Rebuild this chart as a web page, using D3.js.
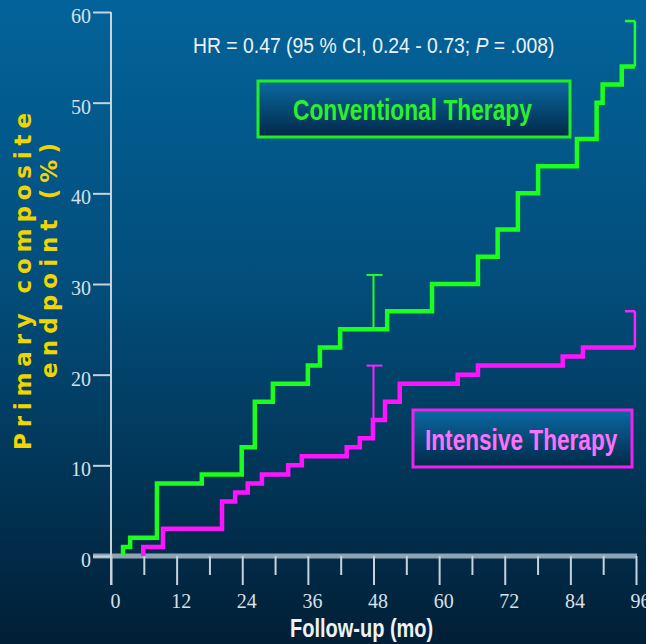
<!DOCTYPE html>
<html><head><meta charset="utf-8">
<script src="https://cdn.jsdelivr.net/npm/d3@7"></script>
<style>html,body{margin:0;padding:0;background:#003050;}svg{display:block}</style>
</head><body>
<svg id="c" width="646" height="644"></svg>
<script>
// ---- data ----
const convTimes  = [2.2, 2.2, 3.5, 8.4, 16.6, 23.9, 26.3, 29.6, 36.0, 38.2, 41.9, 50.5, 58.7, 67.1, 70.7, 74.4, 78.1, 85.2, 88.8, 89.9, 93.4, 95.8];
const convValues = [0,   1,   2,   8,   9,    12,   17,   19,   21,   23,   25,   27,   30,   33,   36,   40,   43,   46,   50,   52,   54,   54];
const intTimes   = [5.9, 5.9, 9.5, 20.3, 22.7, 25.0, 27.6, 32.4, 34.9, 43.1, 45.5, 47.9, 50.1, 52.8, 63.4, 67.1, 82.6, 86.3, 95.8];
const intValues  = [0,   1,   3,   6,    7,    8,    9,    10,   11,   12,   13,   15,   17,   19,   20,   21,   22,   23,   23];
const ciTimes    = [48, 95.8];
const convCILow  = [25, 54];
const convCIHigh = [31, 59];
const intCILow   = [15, 23];
const intCIHigh  = [21, 27];
const xMajorTicks = [0, 12, 24, 36, 48, 60, 72, 84, 96];
const xMinorTicks = [6, 18, 30, 42, 54, 66, 78, 90];
const yTicks = [0, 10, 20, 30, 40, 50, 60];
const hrText = ["HR = 0.47 (95 % CI, 0.24 - 0.73; ", "P", " = .008)"];
const convLabel = "Conventional Therapy";
const intLabel = "Intensive Therapy";
const xTitle = "Follow-up (mo)";
const yTitle = ["Primary composite", "endpoint (%)"];

// ---- drawing ----
const svg = d3.select("#c");
const defs = svg.append("defs");
const bg = defs.append("linearGradient").attr("id","bg").attr("x1",0).attr("y1",0).attr("x2",0).attr("y2",1);
bg.append("stop").attr("offset","0%").attr("stop-color","#03639a");
bg.append("stop").attr("offset","45%").attr("stop-color","#024d7a");
bg.append("stop").attr("offset","100%").attr("stop-color","#011f36");
const box = defs.append("linearGradient").attr("id","box").attr("x1",0).attr("y1",0).attr("x2",0).attr("y2",1);
box.append("stop").attr("offset","0%").attr("stop-color","#0a6aa2");
box.append("stop").attr("offset","100%").attr("stop-color","#012848");

svg.append("rect").attr("width",646).attr("height",644).attr("fill","url(#bg)");

const x = d3.scaleLinear().domain([0,96]).range([111,636]);
const y = d3.scaleLinear().domain([0,60]).range([556,12]);

const axisColor = "#c6d2dc";
const labelFont = "'Liberation Serif', 'DejaVu Serif', serif";
const sans = "'Liberation Sans', Arial, sans-serif";

// x axis: thick baseline
svg.append("line").attr("x1",93).attr("x2",637).attr("y1",y(0)).attr("y2",y(0))
  .attr("stroke","#8ea4b4").attr("stroke-width",5);
// y axis line
svg.append("line").attr("x1",x(0)).attr("x2",x(0)).attr("y1",y(60)).attr("y2",585)
  .attr("stroke",axisColor).attr("stroke-width",2);

const gMinor = svg.append("g").attr("transform",`translate(0,${y(0)})`)
  .call(d3.axisBottom(x).tickValues(xMinorTicks).tickSize(19).tickFormat(""));
const gMajor = svg.append("g").attr("transform",`translate(0,${y(0)})`)
  .call(d3.axisBottom(x).tickValues(xMajorTicks).tickSize(29).tickPadding(9).tickFormat(d3.format("d")));
[gMinor, gMajor].forEach(g => {
  g.select(".domain").remove();
  g.selectAll(".tick line").attr("stroke",axisColor).attr("stroke-width",2);
});
gMajor.selectAll(".tick text").attr("fill","#d8e0e8").attr("font-family",labelFont)
  .attr("font-size",20).attr("dx",4);

const gY = svg.append("g").attr("transform",`translate(${x(0)},0)`)
  .call(d3.axisLeft(y).tickValues(yTicks).tickSize(18).tickPadding(2).tickFormat(d3.format("d")));
gY.select(".domain").remove();
gY.selectAll(".tick line").attr("stroke",axisColor).attr("stroke-width",2);
gY.selectAll(".tick text").attr("fill","#d8e0e8").attr("font-family",labelFont)
  .attr("font-size",20).attr("dy","0.52em");

// step curves
const line = d3.line().x(d => x(d[0])).y(d => y(d[1])).curve(d3.curveStepAfter);
const convData = convTimes.map((t,i) => [t, convValues[i]]);
const intData = intTimes.map((t,i) => [t, intValues[i]]);

function drawCI(lo, hi, color) {
  ciTimes.forEach((t,i) => {
    const cx = x(t);
    svg.append("line").attr("x1",cx).attr("x2",cx).attr("y1",y(lo[i])).attr("y2",y(hi[i]))
      .attr("stroke",color).attr("stroke-width", i === 0 ? 2 : 2.5);
    if (i === 0) {
      svg.append("line").attr("x1",cx-7).attr("x2",cx+9).attr("y1",y(hi[i])).attr("y2",y(hi[i]))
        .attr("stroke",color).attr("stroke-width",2);
    } else {
      svg.append("line").attr("x1",cx-10).attr("x2",cx).attr("y1",y(hi[i])).attr("y2",y(hi[i]))
        .attr("stroke",color).attr("stroke-width",2.5);
    }
  });
}
drawCI(convCILow, convCIHigh, "#22ff22");
drawCI(intCILow, intCIHigh, "#ff22ff");

svg.append("path").datum(convData).attr("d",line).attr("fill","none")
  .attr("stroke","#1cff1c").attr("stroke-width",4.5).attr("stroke-linejoin","miter");
svg.append("path").datum(intData).attr("d",line).attr("fill","none")
  .attr("stroke","#ff14ff").attr("stroke-width",4.5).attr("stroke-linejoin","miter");

// HR text
const hr = svg.append("text").attr("transform","translate(193,53) scale(0.88,1)").attr("fill","#eef2f4")
  .attr("font-family",sans).attr("font-size",22);
hr.append("tspan").text(hrText[0]);
hr.append("tspan").attr("font-style","italic").text(hrText[1]);
hr.append("tspan").text(hrText[2]);

// legend boxes
function legendBox(x0, y0, w, h, stroke, label, tx, sx, tb, fill) {
  svg.append("rect").attr("x",x0).attr("y",y0).attr("width",w).attr("height",h)
    .attr("fill","url(#box)").attr("stroke",stroke).attr("stroke-width",3);
  svg.append("text").attr("transform",`translate(${tx},${tb}) scale(${sx},1)`).attr("fill",fill)
    .attr("font-family",sans).attr("font-size",29).attr("font-weight","bold").text(label);
}
legendBox(258, 81, 312, 56, "#22ee22", convLabel, 293, 0.785, 120, "#2cf02c");
legendBox(413, 410, 219, 57, "#ee22ee", intLabel, 425, 0.78, 450, "#ff70ff");

// axis titles
svg.append("text").attr("transform","translate(290,637) scale(0.8,1)").attr("fill","#eef2f4")
  .attr("font-family",sans).attr("font-size",25).attr("font-weight","bold").text(xTitle);

svg.append("text").attr("transform","translate(31,450) rotate(-90)").attr("fill","#f2d400")
  .attr("font-family","'DejaVu Sans', sans-serif").attr("font-size",23).attr("font-weight","bold")
  .attr("textLength",337).attr("lengthAdjust","spacing").text(yTitle[0]);
svg.append("text").attr("transform","translate(57,378) rotate(-90)").attr("fill","#f2d400")
  .attr("font-family","'DejaVu Sans', sans-serif").attr("font-size",23).attr("font-weight","bold")
  .attr("textLength",235).attr("lengthAdjust","spacing").text(yTitle[1]);
</script>
</body></html>
